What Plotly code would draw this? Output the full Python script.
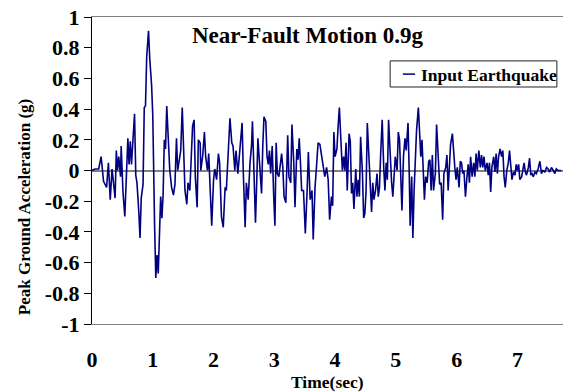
import plotly.graph_objects as go

# ---- data ----
time_sec = [
    0.00, 0.05, 0.11, 0.15, 0.19, 0.24, 0.27, 0.30, 0.33, 0.36, 0.38, 0.40, 0.42, 0.44, 0.47, 0.48,
    0.51, 0.54, 0.56, 0.59, 0.61, 0.63, 0.65, 0.67, 0.70, 0.72, 0.74, 0.77, 0.79, 0.81, 0.84, 0.86,
    0.88, 0.90, 0.93, 0.95, 0.96, 0.98, 1.00, 1.01, 1.03, 1.05, 1.07, 1.09, 1.11, 1.13, 1.15, 1.17,
    1.19, 1.21, 1.23, 1.255, 1.28, 1.31, 1.34, 1.365, 1.39, 1.41, 1.44, 1.46, 1.485, 1.51, 1.53, 1.56,
    1.58, 1.61, 1.63, 1.655, 1.68, 1.70, 1.73, 1.75, 1.78, 1.79, 1.82, 1.85, 1.87, 1.90, 1.92, 1.95,
    1.97, 2.00, 2.02, 2.05, 2.08, 2.10, 2.13, 2.16, 2.19, 2.21, 2.24, 2.27, 2.30, 2.32, 2.35, 2.37,
    2.40, 2.42, 2.45, 2.47, 2.49, 2.52, 2.54, 2.57, 2.60, 2.625, 2.64, 2.66, 2.69, 2.71, 2.73, 2.75,
    2.77, 2.79, 2.81, 2.83, 2.86, 2.88, 2.90, 2.92, 2.94, 2.965, 2.99, 3.01, 3.03, 3.05, 3.075, 3.10,
    3.12, 3.14, 3.16, 3.19, 3.22, 3.24, 3.27, 3.29, 3.32, 3.34, 3.37, 3.39, 3.41, 3.43, 3.45, 3.48,
    3.51, 3.54, 3.56, 3.59, 3.62, 3.64, 3.67, 3.70, 3.72, 3.75, 3.78, 3.80, 3.83, 3.86, 3.886, 3.91,
    3.94, 3.96, 3.98, 4.00, 4.03, 4.05, 4.07, 4.10, 4.12, 4.14, 4.16, 4.18, 4.20, 4.23, 4.25, 4.27,
    4.29, 4.31, 4.34, 4.36, 4.38, 4.40, 4.42, 4.45, 4.47, 4.49, 4.51, 4.53, 4.555, 4.58, 4.60, 4.62,
    4.64, 4.665, 4.69, 4.71, 4.73, 4.75, 4.775, 4.80, 4.82, 4.84, 4.86, 4.88, 4.905, 4.93, 4.95, 4.97,
    4.99, 5.02, 5.04, 5.06, 5.08, 5.10, 5.125, 5.15, 5.17, 5.19, 5.20, 5.22, 5.235, 5.26, 5.28, 5.30,
    5.32, 5.34, 5.37, 5.39, 5.41, 5.43, 5.45, 5.47, 5.49, 5.515, 5.54, 5.56, 5.58, 5.60, 5.62, 5.65,
    5.67, 5.70, 5.72, 5.745, 5.77, 5.79, 5.82, 5.84, 5.86, 5.88, 5.90, 5.93, 5.95, 5.97, 5.99, 6.01,
    6.04, 6.06, 6.08, 6.10, 6.12, 6.145, 6.17, 6.19, 6.21, 6.23, 6.255, 6.28, 6.30, 6.32, 6.34, 6.365,
    6.39, 6.41, 6.43, 6.45, 6.47, 6.50, 6.52, 6.54, 6.56, 6.58, 6.61, 6.63, 6.65, 6.67, 6.69, 6.715,
    6.74, 6.76, 6.78, 6.80, 6.825, 6.85, 6.87, 6.89, 6.91, 6.935, 6.96, 6.98, 7.00, 7.02, 7.04, 7.07,
    7.09, 7.11, 7.13, 7.15, 7.18, 7.20, 7.22, 7.24, 7.26, 7.29, 7.31, 7.34, 7.37, 7.395, 7.42, 7.45,
    7.48, 7.505, 7.53, 7.56, 7.59, 7.615, 7.64, 7.67, 7.70, 7.72,
]
accel_g = [
    0.00, 0.01, 0.01, 0.09, -0.07, -0.11, 0.05, -0.19, 0.01, -0.14, -0.18, 0.13, 0.00, 0.09, -0.04, 0.16,
    -0.14, -0.30, -0.07, 0.21, 0.04, 0.19, 0.04, 0.15, 0.37, -0.03, -0.08, -0.27, -0.44, -0.18, -0.09, 0.41,
    0.42, 0.74, 0.91, 0.73, 0.67, 0.56, 0.36, 0.00, -0.36, -0.70, -0.55, -0.67, -0.36, -0.17, -0.31, -0.16,
    0.20, 0.14, 0.42, 0.22, 0.00, -0.11, -0.16, -0.09, 0.21, 0.00, 0.07, 0.13, 0.41, 0.09, -0.13, -0.22,
    -0.08, -0.13, 0.03, 0.29, 0.33, -0.04, -0.24, 0.20, 0.18, 0.00, 0.09, 0.25, 0.09, 0.00, 0.11, -0.13,
    -0.36, -0.06, 0.01, -0.06, 0.11, 0.05, -0.30, -0.37, -0.11, -0.13, 0.09, 0.34, 0.18, 0.16, 0.00, 0.13,
    -0.02, 0.09, 0.25, 0.31, -0.02, -0.37, -0.08, -0.19, 0.05, 0.16, 0.32, 0.02, -0.34, -0.08, 0.21, 0.09,
    -0.04, -0.15, 0.16, 0.35, 0.32, 0.09, 0.04, 0.13, -0.02, 0.16, -0.17, -0.36, 0.18, -0.02, -0.04, 0.05,
    0.11, 0.02, -0.17, -0.21, 0.23, -0.04, -0.08, 0.30, 0.05, -0.24, 0.14, 0.07, 0.21, 0.05, -0.13, -0.13,
    -0.41, -0.13, 0.12, -0.19, -0.13, -0.45, -0.11, 0.06, 0.18, 0.17, 0.09, 0.02, -0.04, 0.02, -0.06, -0.32,
    -0.17, -0.23, 0.25, 0.09, 0.14, 0.29, 0.41, 0.16, 0.00, 0.09, 0.00, 0.18, -0.13, 0.24, 0.19, -0.15,
    -0.08, -0.25, 0.01, -0.17, -0.06, -0.17, 0.22, -0.02, -0.31, -0.28, -0.13, 0.31, 0.13, -0.13, -0.27, -0.08,
    -0.19, -0.13, -0.02, -0.17, -0.11, 0.11, 0.33, 0.02, -0.13, 0.05, -0.06, 0.33, 0.11, -0.08, -0.17, -0.04,
    0.09, 0.00, 0.25, 0.20, -0.08, -0.26, 0.09, 0.21, 0.13, 0.29, 0.31, -0.02, -0.36, -0.04, -0.44, -0.13,
    0.13, 0.26, 0.41, 0.25, 0.09, 0.20, -0.04, -0.19, -0.04, -0.08, 0.06, 0.07, -0.13, 0.10, -0.13, -0.02,
    0.30, 0.05, -0.09, -0.08, -0.32, -0.02, 0.02, 0.10, -0.13, 0.02, 0.17, 0.24, 0.11, 0.02, -0.06, 0.02,
    -0.11, 0.06, 0.05, -0.02, 0.00, -0.17, -0.04, 0.04, -0.08, 0.09, -0.04, 0.05, -0.04, 0.11, 0.00, 0.13,
    0.02, 0.10, 0.02, 0.09, 0.00, 0.05, -0.03, 0.05, -0.14, 0.02, 0.09, -0.01, 0.11, -0.02, 0.09, 0.14,
    0.09, 0.13, -0.04, -0.11, 0.00, 0.05, 0.13, 0.01, -0.06, -0.01, -0.03, 0.04, 0.00, 0.04, -0.06, -0.04,
    0.00, 0.05, -0.01, -0.03, 0.02, 0.08, -0.03, -0.02, -0.04, -0.01, -0.02, 0.01, 0.06, -0.02, 0.00, -0.01,
    0.02, 0.01, -0.01, 0.02, 0.00, -0.02, 0.01, 0.00, 0.00, 0.00,
]

x_tick_vals = [0, 1, 2, 3, 4, 5, 6, 7]
x_tick_text = ["0", "1", "2", "3", "4", "5", "6", "7"]
y_tick_vals = [1, 0.8, 0.6, 0.4, 0.2, 0, -0.2, -0.4, -0.6, -0.8, -1]
y_tick_text = ["1", "0.8", "0.6", "0.4", "0.2", "0", "-0.2", "-0.4", "-0.6", "-0.8", "-1"]

chart_title = "Near-Fault Motion 0.9g"
series_name = "Input Earthquake"
x_title = "Time(sec)"
y_title = "Peak Ground Acceleration (g)"

FONT = "Liberation Serif, Times New Roman, serif"
LINE_COLOR = "#000080"

fig = go.Figure()
fig.add_trace(go.Scatter(
    x=time_sec, y=accel_g, mode="lines", name=series_name,
    line=dict(color=LINE_COLOR, width=1.6), showlegend=False,
))

fig.update_layout(
    width=564, height=392,
    margin=dict(l=92, r=1, t=17, b=68, autoexpand=False),
    paper_bgcolor="white", plot_bgcolor="white",
    font=dict(family=FONT, color="black"),
    showlegend=False,
)
fig.update_xaxes(
    range=[0, 7.75], tickvals=x_tick_vals, ticktext=x_tick_text,
    ticks="", showgrid=False, zeroline=False,
    showline=True, mirror=True, linecolor="#808080", linewidth=1,
    tickfont=dict(family=FONT, size=22, weight="bold"),
    ticklabelstandoff=16, automargin=False,
)
fig.update_yaxes(
    range=[-1, 1], tickvals=y_tick_vals, ticktext=y_tick_text,
    ticks="outside", ticklen=7, tickcolor="black", tickwidth=1,
    showgrid=False, zeroline=True, zerolinecolor="#808080", zerolinewidth=1.5,
    showline=True, linecolor="black", linewidth=1, mirror=False,
    tickfont=dict(family=FONT, size=22, weight="bold"), automargin=False,
)

# chart title
fig.add_annotation(text="<b>" + chart_title + "</b>", xref="paper", yref="paper",
                   x=0.4586, y=0.940, showarrow=False, xanchor="center", yanchor="middle",
                   font=dict(family=FONT, size=23, color="black"))
# axis titles
fig.add_annotation(text="<b>" + x_title + "</b>", xref="paper", yref="paper",
                   x=0.5, y=-0.189, showarrow=False, xanchor="center", yanchor="middle",
                   font=dict(family=FONT, size=17.5, color="black"))
fig.add_annotation(text="<b>" + y_title + "</b>", xref="paper", yref="paper",
                   x=-0.144, y=0.381, showarrow=False, xanchor="center", yanchor="middle",
                   textangle=-90, font=dict(family=FONT, size=17, color="black"))

# legend box drawn manually
fig.add_shape(type="rect", xref="paper", yref="paper", x0=0.633, x1=0.987, y0=0.772, y1=0.857,
              line=dict(color="#222222", width=1), fillcolor="white", layer="above")
fig.add_shape(type="line", xref="paper", yref="paper", x0=0.660, x1=0.686, y0=0.814, y1=0.814,
              line=dict(color=LINE_COLOR, width=1.5), layer="above")
fig.add_annotation(text="<b>" + series_name + "</b>", xref="paper", yref="paper",
                   x=0.694, y=0.812, showarrow=False, xanchor="left", yanchor="middle",
                   font=dict(family=FONT, size=17.5, color="black"))

fig.write_html("out.html", config={"displayModeBar": False},
               post_script="document.body.style.margin='0px';")
